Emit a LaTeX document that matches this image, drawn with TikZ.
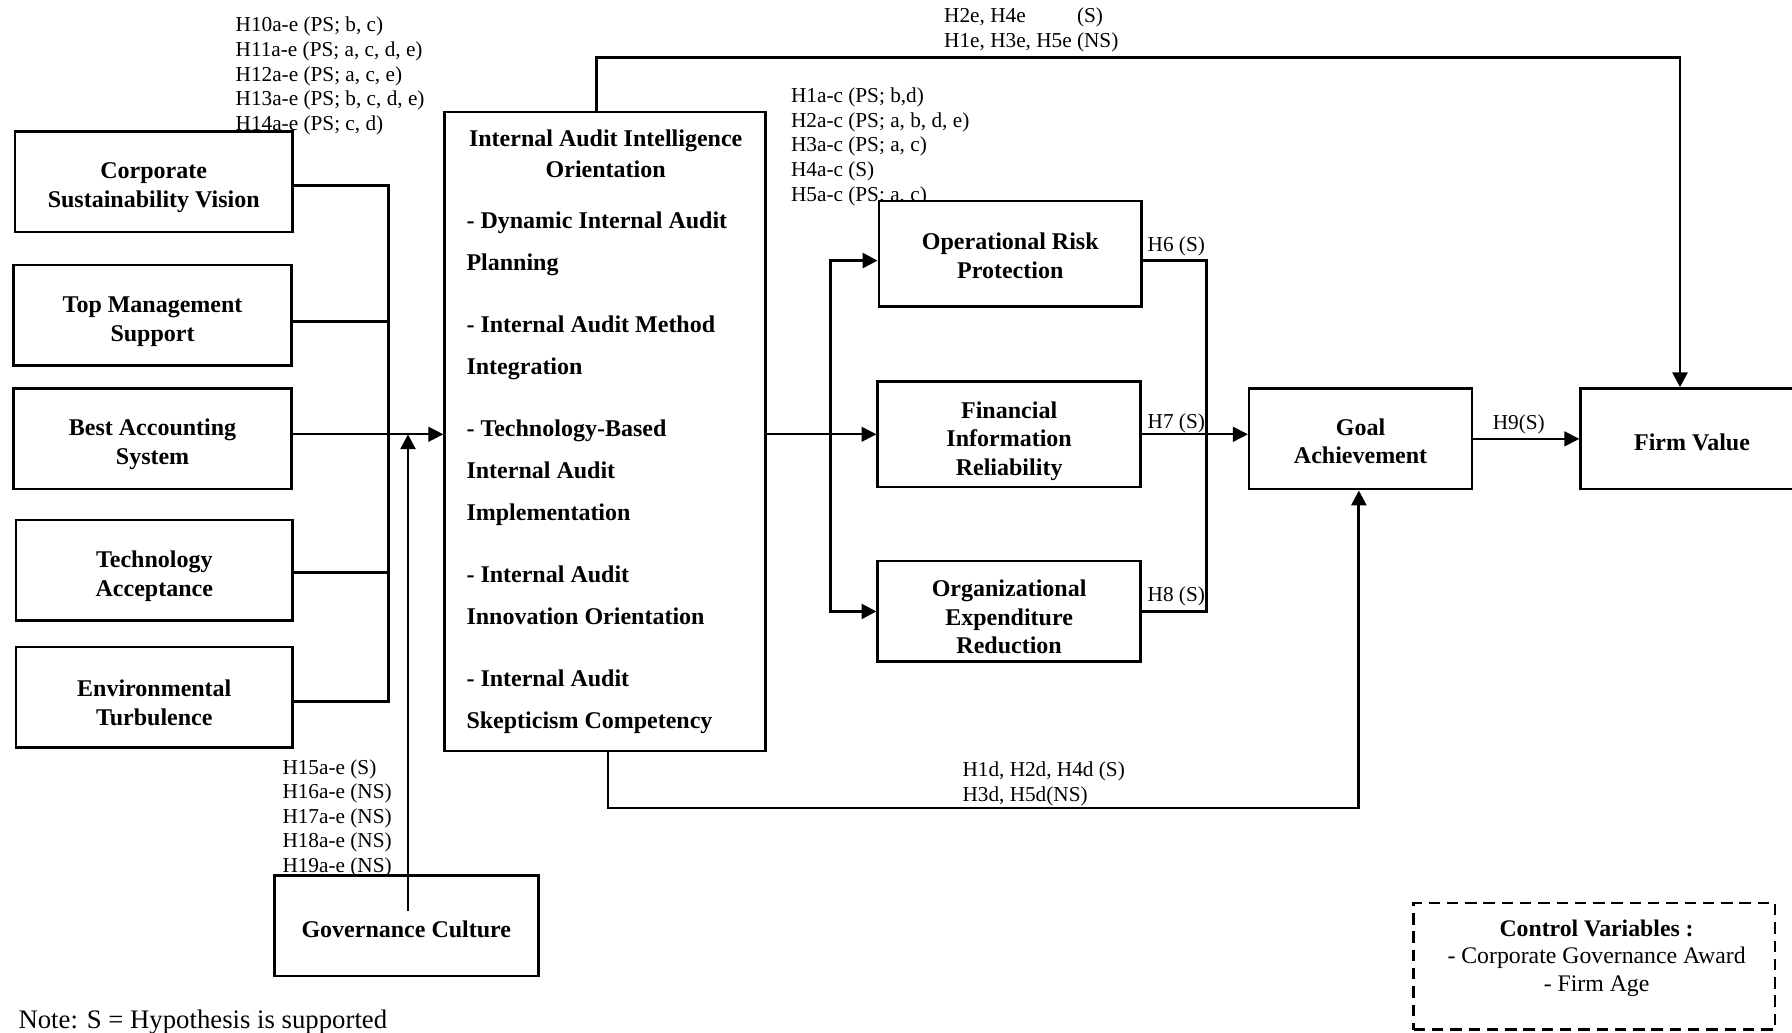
\documentclass[tikz,border=0pt]{standalone}
\usepackage{fontspec}
\setmainfont{Liberation Serif}
\usetikzlibrary{arrows.meta}
% invisible rule that lowers the first line of a box text
\newcommand\toprule[1]{\rule{0pt}{#1pt}}
\begin{document}
\begin{tikzpicture}[x=1pt,y=-1pt,
  box/.style={draw, line width=2.3pt, fill=white, align=center, inner sep=0pt,
    font=\bfseries\fontsize{21}{25}\selectfont},
  lbl/.style={inner sep=0pt, anchor=west, align=left,
    font=\fontsize{18.6}{21.5}\selectfont},
  conn/.style={line width=2.5pt},
  fine/.style={line width=1.5pt},
  tip/.style={-{Triangle[length=13pt,width=13pt]}},
]
\clip (0,0) rectangle (1568,903);
\fill[white] (0,0) rectangle (1568,903);

% hypothesis labels (drawn first, boxes overlap them)
\node[lbl] (h10) at (206,66.5) {H10a-e (PS; b, c)\\H11a-e (PS; a, c, d, e)\\H12a-e (PS; a, c, e)\\H13a-e (PS; b, c, d, e)\\H14a-e (PS; c, d)};
\node[lbl] (h1) at (692,128.5) {H1a-c (PS; b,d)\\H2a-c (PS; a, b, d, e)\\H3a-c (PS; a, c)\\H4a-c (S)\\H5a-c (PS; a, c)};
\node[lbl] (h15) at (247,716) {H15a-e (S)\\H16a-e (NS)\\H17a-e (NS)\\H18a-e (NS)\\H19a-e (NS)};
\node[lbl] (he) at (826,26.5) {\begin{tabular}{@{}l@{\ }l@{}}H2e, H4e & (S)\\H1e, H3e, H5e & (NS)\end{tabular}};
\node[lbl] (hd) at (842,686) {H1d, H2d, H4d (S)\\H3d, H5d(NS)};
\node[lbl] (h6) at (1004,215.5) {H6 (S)};
\node[lbl] (h7) at (1004,370.5) {H7 (S)};
\node[lbl] (h8) at (1004,521.5) {H8 (S)};
\node[lbl] (h9) at (1306,371.5) {H9(S)};

% antecedent boxes
\node[box, minimum width=243pt, minimum height=88pt] (cs) at (134.5,159) {\toprule{24.5}Corporate\\Sustainability Vision};
\node[box, minimum width=243pt, minimum height=88pt] (tm) at (133.5,276) {\toprule{24.5}Top Management\\Support};
\node[box, minimum width=243pt, minimum height=88pt] (ba) at (133.5,384) {\toprule{24.5}Best Accounting\\System};
\node[box, minimum width=242pt, minimum height=88pt] (ta) at (135,499) {\toprule{24.5}Technology\\Acceptance};
\node[box, minimum width=242pt, minimum height=88pt] (et) at (135,610) {\toprule{24.5}Environmental\\Turbulence};
\node[box, minimum width=231pt, minimum height=88pt] (gc) at (355.5,810) {\toprule{20}Governance Culture};

% internal audit intelligence orientation
\node[draw, line width=2.3pt, fill=white, minimum width=281pt, minimum height=559pt] (ia) at (529.5,377.5) {};
\node[inner sep=0pt, align=center, font=\bfseries\fontsize{21}{27}\selectfont] (iat) at (530,134.5)
  {Internal Audit Intelligence\\Orientation};
\node[inner sep=0pt, align=left, anchor=north west, font=\bfseries\fontsize{21}{37}\selectfont] (iab) at (408,185)
  {- Dynamic Internal Audit\\Planning\\[17pt]
   - Internal Audit Method\\Integration\\[17pt]
   - Technology-Based\\Internal Audit\\Implementation\\[17pt]
   - Internal Audit\\Innovation Orientation\\[17pt]
   - Internal Audit\\Skepticism Competency};

% outcome boxes
\node[box, minimum width=230pt, minimum height=92pt] (orp) at (884,222) {\toprule{18.5}Operational Risk\\Protection};
\node[box, minimum width=230pt, minimum height=92pt] (fir) at (883,380) {\toprule{26.5}Financial\\Information\\Reliability};
\node[box, minimum width=230pt, minimum height=88pt] (oer) at (883,535) {\toprule{24.5}Organizational\\Expenditure\\Reduction};
\node[box, minimum width=195pt, minimum height=88pt] (goal) at (1190.5,384) {\toprule{18.5}Goal\\Achievement};
\node[box, minimum width=195pt, minimum height=88pt] (fv) at (1480.5,384) {\toprule{20}Firm Value};

% control variables
\node[draw, line width=2.3pt, dash pattern=on 10pt off 6pt, minimum width=316pt, minimum height=111pt] (cv) at (1395,845.5) {};
\node[inner sep=0pt, align=center, font=\fontsize{20.8}{24}\selectfont] (cvt) at (1397,838.5)
  {\textbf{Control Variables :}\\- Corporate Governance Award\\- Firm Age};

\node[inner sep=0pt, anchor=west, font=\fontsize{23.4}{26}\selectfont] (note) at (16,894) {Note: S = Hypothesis is supported};

% routing points
\coordinate (jcs) at (340,162);
\coordinate (jtm) at (340,281);
\coordinate (jba) at (340,380);
\coordinate (jta) at (340,501);
\coordinate (jet) at (340,614);
\coordinate (gcin) at (357,797);
\coordinate (topL) at (522,50);
\coordinate (topR) at (1470,50);
\coordinate (d1) at (727,228);
\coordinate (d3) at (727,535);
\coordinate (r1) at (1056,228);
\coordinate (r3) at (1056,535);
\coordinate (b1) at (532,707);
\coordinate (b2) at (1189,707);

% antecedents to internal audit
\draw[conn] (cs.east |- jcs) -- (jcs) -- (jet) -- (et.east |- jet);
\draw[conn] (tm.east |- jtm) -- (jtm);
\draw[conn] (ta.east |- jta) -- (jta);
\draw[fine, tip] (ba.east |- jba) -- (ia.west |- jba);
\draw[conn, tip] (gcin) -- (gcin |- jba);

% internal audit to outcomes
\draw[fine, tip] (ia.east |- fir.west) -- (fir.west);
\draw[conn, {Triangle[length=13pt,width=13pt]}-{Triangle[length=13pt,width=13pt]}]
  (orp.west |- d1) -- (d1) -- (d3) -- (oer.west |- d3);
\draw[conn, tip] (ia.north -| topL) -- (topL) -- (topR) -- (fv.north -| topR);
\draw[conn, tip] (ia.south -| b1) -- (b1) -- (b2) -- (goal.south -| b2);

% outcomes to goal achievement and firm value
\draw[conn] (orp.east |- r1) -- (r1) -- (r3) -- (oer.east |- r3);
\draw[fine, tip] (fir.east) -- (goal.west |- fir.east);
\draw[fine, tip] (goal.east) -- (fv.west);
\end{tikzpicture}
\end{document}
